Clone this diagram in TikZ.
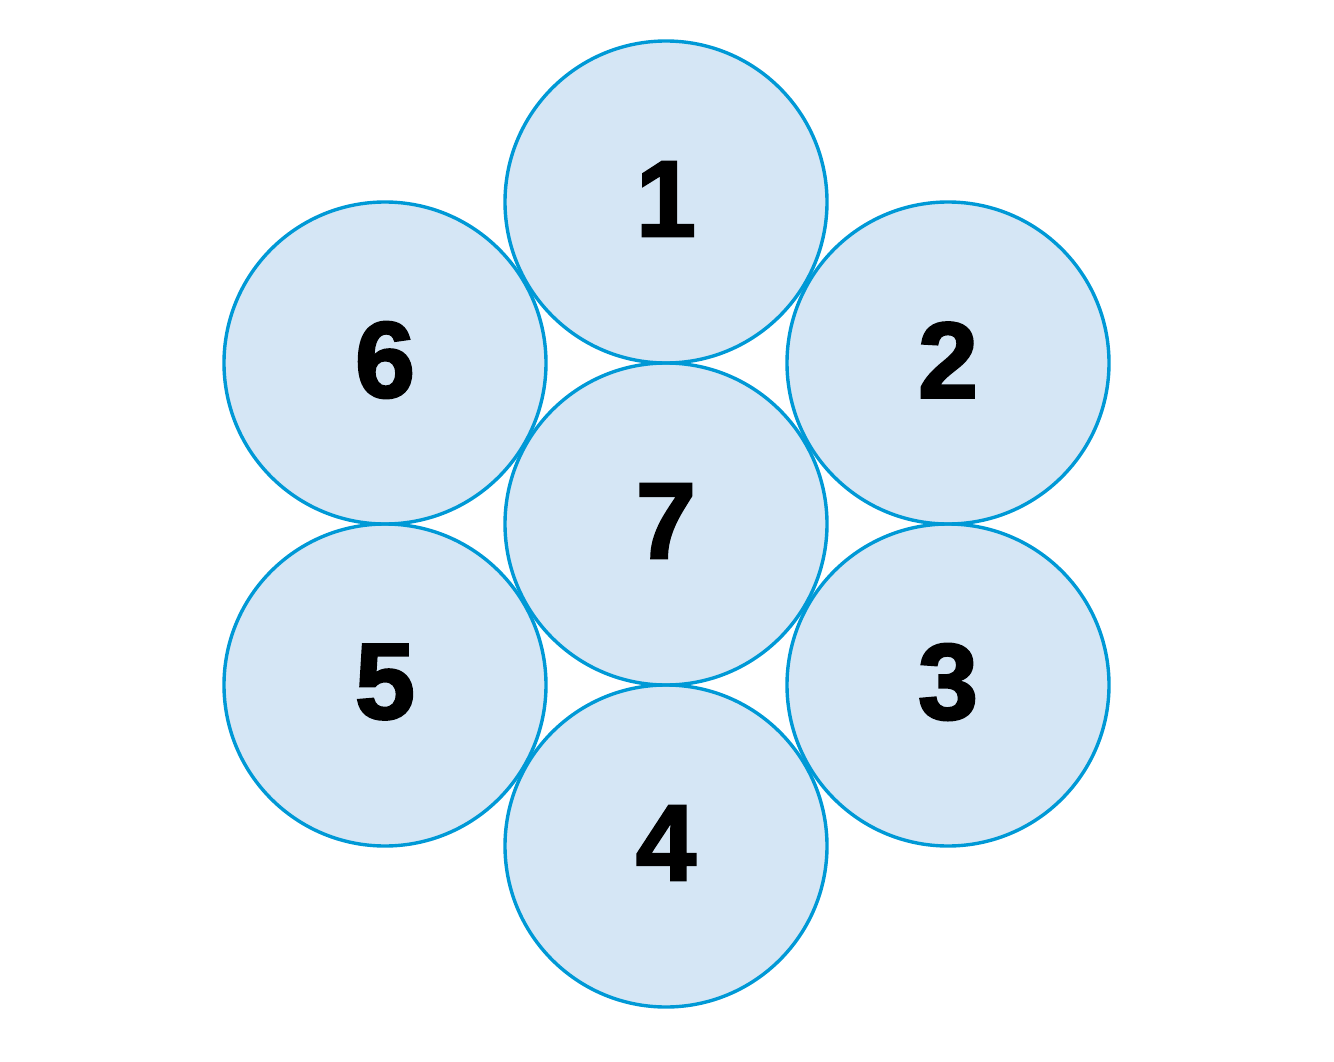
\documentclass[tikz,border=0pt]{standalone}
\usepackage{fontspec}
\setmainfont{Liberation Sans}
\newfontfamily\heavy[FakeBold=2.2]{Liberation Sans Bold}
\definecolor{cfill}{HTML}{D5E6F5}
\definecolor{cline}{HTML}{0099D6}
\begin{document}
\begin{tikzpicture}[x=1pt,y=-1pt,
  disc/.style={circle,minimum size=322pt,inner sep=0pt,fill=cfill},
  ring/.style={circle,minimum size=322pt,inner sep=0pt,draw=cline,line width=3.4pt,
    font=\heavy\fontsize{110}{110}\selectfont},
  lbl/.style={inner sep=0pt,font=\heavy\fontsize{108}{108}\selectfont,yshift=3pt}]
\useasboundingbox (0,0) rectangle (1334,1062);
\foreach \x/\y in {666/202,948/363,948/685,666/846,385/685,385/363,666/524}
  \node[disc] at (\x,\y) {};
\foreach \n/\x/\y in {1/666/202,2/948/363,3/948/685,4/666/846,5/385/685,6/385/363,7/666/524}
  \node[ring] (n\n) at (\x,\y) {};
\foreach \n in {1,...,7}
  \node[lbl] (t\n) at (n\n) {\n};
\end{tikzpicture}
\end{document}
